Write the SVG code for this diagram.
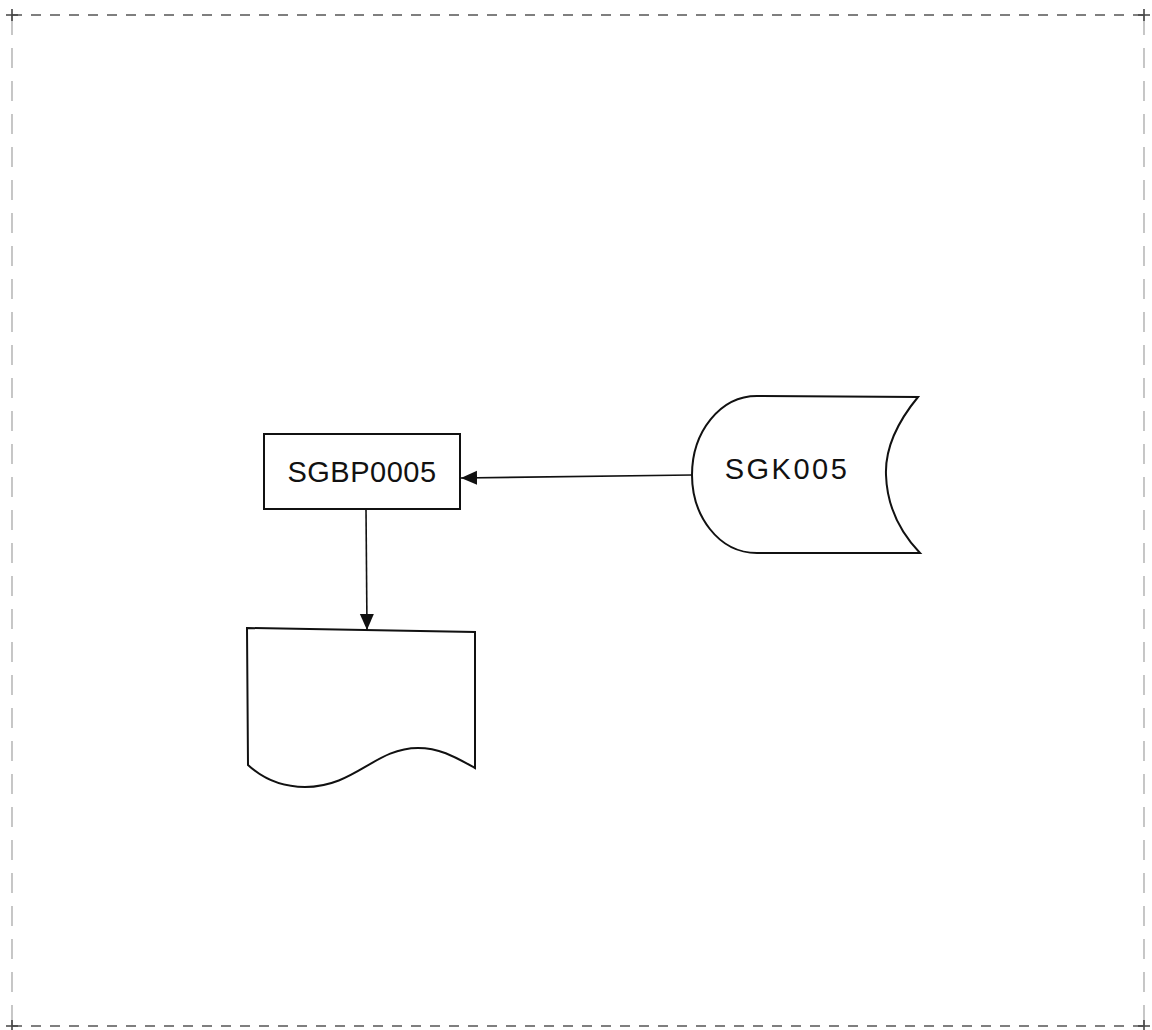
<svg xmlns="http://www.w3.org/2000/svg" width="1152" height="1030" viewBox="0 0 1152 1030">
<defs>
<style>
.shape{fill:#fff;stroke:#111;stroke-width:2}
.conn{fill:none;stroke:#111;stroke-width:1.6}
.hb{stroke:#555;stroke-width:1.6;stroke-dasharray:10 9}
.vb{stroke:#999;stroke-width:1.1;stroke-dasharray:20 13}
.lbl{font-family:"Liberation Sans",Arial,sans-serif;font-size:29px;fill:#111}
</style>
<marker id="ah" viewBox="0 0 16 18" refX="16" refY="7" markerWidth="18" markerHeight="14" markerUnits="userSpaceOnUse" orient="auto">
<path d="M0,0 L18,7 L0,14 Z" fill="#111"/>
</marker>
<marker id="ah2" viewBox="0 0 16 16" refX="16" refY="8" markerWidth="16" markerHeight="16" markerUnits="userSpaceOnUse" orient="auto">
<path d="M0,1 L16,8 L0,15 Z" fill="#111"/>
</marker>
</defs>
<rect width="1152" height="1030" fill="#fff"/>
<g id="border">
<line class="hb" x1="12" y1="15" x2="1144" y2="15"/>
<line class="hb" x1="12" y1="1026" x2="1144" y2="1026"/>
<line class="vb" x1="12" y1="15" x2="12" y2="1026"/>
<line class="vb" x1="1144" y1="15" x2="1144" y2="1026"/>
<path d="M6,15 H18 M12,9 V21 M1138,15 H1150 M1144,9 V21 M6,1026 H18 M12,1020 V1032 M1138,1026 H1150 M1144,1020 V1032" stroke="#444" stroke-width="1.6"/>
</g>
<g id="connectors">
<path class="conn" d="M692,475 L461,478" marker-end="url(#ah2)"/>
<path class="conn" d="M366,509 L367,630" marker-end="url(#ah2)"/>
</g>
<g id="node-sgbp0005">
<rect class="shape" x="264" y="434" width="196" height="75"/>
<text class="lbl" x="362" y="482" text-anchor="middle" letter-spacing="0.5">SGBP0005</text>
</g>
<g id="node-sgk005">
<path class="shape" d="M757,396 L918,397 C895,425 885,450 886,475 C887,505 898,530 920,553 L757,553 C718,553 692,515 692,475 C692,432 720,396 757,396 Z"/>
<text class="lbl" x="787" y="479" text-anchor="middle" letter-spacing="2.5">SGK005</text>
</g>
<g id="node-document">
<path class="shape" d="M247,628 L475,632 L475,768 C455,757 440,748 418,748 C375,748 355,787 305,787 C280,787 262,778 248,765 Z"/>
</g>
</svg>
